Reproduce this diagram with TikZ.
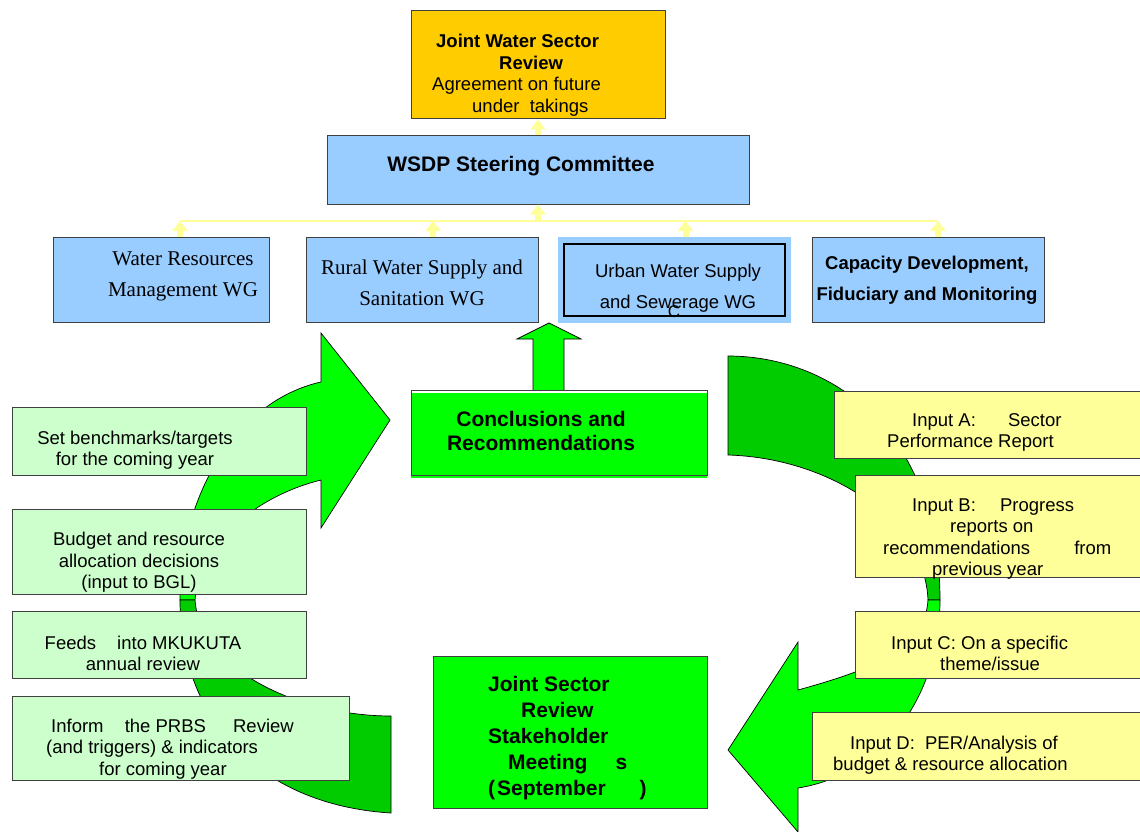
\documentclass[tikz,border=0pt]{standalone}
\usepackage{fontspec}
\setmainfont{Liberation Sans}
\newfontfamily\timesfont{Liberation Serif}
\usetikzlibrary{arrows.meta,positioning}

\definecolor{orangebox}{HTML}{FFCC00}
\definecolor{bluebox}{HTML}{99CCFF}
\definecolor{brightgreen}{HTML}{00FF00}
\definecolor{darkgreen}{HTML}{00CC00}
\definecolor{palegreen}{HTML}{CCFFCC}
\definecolor{paleyellow}{HTML}{FFFF99}
\definecolor{edgegray}{HTML}{404040}

\tikzset{
  box/.style={draw=edgegray, line width=1pt, inner sep=0pt},
  lbl/.style={inner sep=0pt, align=center, font=\fontsize{18.5}{21.5}\selectfont},
  lblb/.style={lbl, font=\bfseries\fontsize{18.5}{21.5}\selectfont},
  feed/.style={draw=paleyellow, line width=6pt, -{Triangle[width=15pt,length=10pt]}},
  bus/.style={draw=paleyellow, line width=2pt},
  curved/.style={draw=black, line width=0.7pt, line join=miter}
}

\begin{document}
\begin{tikzpicture}[x=1pt,y=-1pt]
	\useasboundingbox (0,0) rectangle (1140,832);
	\fill[white] (0,0) rectangle (1140,832);
	\clip (0,0) rectangle (1140,832);

	% curved arrows behind the boxes
	\draw[curved, fill=brightgreen] (180,600) .. controls (180,490) and (240,400) .. (321,382) -- (321,333) -- (390,420) -- (321,528) -- (321,480) .. controls (260,495) and (200,540) .. (195,600) -- cycle;
	\draw[curved, fill=darkgreen] (180,600) .. controls (180,720) and (260,805) .. (391,813) -- (391,716) .. controls (300,716) and (200,670) .. (195,600) -- cycle;

	\draw[curved, fill=darkgreen] (728,356) .. controls (830,356) and (940,430) .. (940,600) -- (928,600) .. controls (925,520) and (830,458) .. (728,455) -- cycle;
	\draw[curved, fill=brightgreen] (940,600) .. controls (940,700) and (880,775) .. (798,788) -- (798,832) -- (728,750) -- (798,642) -- (798,690) .. controls (870,670) and (925,650) .. (928,600) -- cycle;

	% top of the hierarchy
	\node[box, fill=orangebox, minimum width=254pt, minimum height=108pt] (jwsr) at (538,65) {};
	\node[lbl, align=left, anchor=west] (jwsr-t) at (432,75) {\hspace*{4pt}\textbf{Joint Water Sector}\\\hspace*{67pt}\textbf{Review}\\Agreement on future\\\hspace*{40pt}under\ \ takings};

	\node[box, fill=bluebox, minimum width=422pt, minimum height=68pt] (wsdp) at (538,170) {};
	\node[lblb, font=\bfseries\fontsize{21}{24}\selectfont] (wsdp-t) at (521,166) {WSDP Steering Committee};

	% working groups
	\node[box, fill=bluebox, minimum width=216pt, minimum height=85pt] (wrm) at (161,279.5) {};
	\node[lbl, font=\timesfont\fontsize{21}{31}\selectfont] (wrm-t) at (183,276) {Water Resources\\Management WG};

	\node[box, fill=bluebox, minimum width=232pt, minimum height=85pt] (rws) at (422,279.5) {};
	\node[lbl, font=\timesfont\fontsize{21}{31}\selectfont] (rws-t) at (422,283) {Rural Water Supply and\\Sanitation WG};

	\node[fill=bluebox, inner sep=0pt, minimum width=233pt, minimum height=86pt] (uws) at (674.5,280) {};
	\node[draw=black, line width=2pt, inner sep=0pt, minimum width=221pt, minimum height=72pt] (uws-in) at (674.5,280) {};
	\node[lbl, font=\fontsize{18.5}{31}\selectfont] (uws-t) at (678,288) {Urban Water Supply\\and Sewerage WG};
	\node[lbl, font=\fontsize{17}{20}\selectfont] (uws-c) at (674,312) {C};

	\node[box, fill=bluebox, minimum width=232pt, minimum height=85pt] (cdf) at (928,279.5) {};
	\node[lblb, font=\bfseries\fontsize{18.5}{31}\selectfont] (cdf-t) at (927,280) {Capacity Development,\\Fiduciary and Monitoring};

	% yellow feeds up the hierarchy
	\coordinate (bus) at (538,221);
	\draw[bus] ([xshift=19pt]wrm.north |- bus) -- ([xshift=10pt]cdf.north |- bus);
	\draw[feed] ([xshift=19pt]wrm.north) -- ([xshift=19pt]wrm.north |- bus);
	\draw[feed] ([xshift=11pt]rws.north) -- ([xshift=11pt]rws.north |- bus);
	\draw[feed] ([xshift=11pt]uws.north) -- ([xshift=11pt]uws.north |- bus);
	\draw[feed] ([xshift=10pt]cdf.north) -- ([xshift=10pt]cdf.north |- bus);
	\draw[feed] (bus) -- (wsdp.south);
	\draw[feed] (wsdp.north) -- (jwsr.south);

	% conclusions
	\draw[curved, fill=brightgreen] (533,390) -- (533,339) -- (517,339) -- (549,323) -- (581,339) -- (564,339) -- (564,390);
	\fill[brightgreen] (411,393) rectangle (707,478);
	\node[box, minimum width=296pt, minimum height=85pt] (conc) at (559,432.5) {};
	\node[lblb, font=\bfseries\fontsize{21}{24}\selectfont] (conc-t) at (541,431) {Conclusions and\\Recommendations};

	\node[box, fill=brightgreen, minimum width=274pt, minimum height=152pt] (jsr) at (570,732) {};
	\node[lblb, align=left, anchor=west, font=\bfseries\fontsize{21}{26}\selectfont] (jsr-t) at (488,738) {Joint Sector\\\hspace*{33pt}Review\\Stakeholder\\\hspace*{20pt}Meeting\hspace*{28pt}s\\(\kern2pt September\hspace*{34pt})};

	% outputs on the left
	\node[box, fill=palegreen, minimum width=294pt, minimum height=68pt] (bench) at (159,441) {};
	\node[lbl] (bench-t) at (135,450) {Set benchmarks/targets\\for the coming year};

	\node[box, fill=palegreen, minimum width=294pt, minimum height=85pt] (budget) at (159,551.5) {};
	\node[lbl] (budget-t) at (139,562.5) {Budget and resource\\allocation decisions\\(input to BGL)};

	\node[box, fill=palegreen, minimum width=294pt, minimum height=67pt] (mkukuta) at (159,644.5) {};
	\node[lbl] (mkukuta-t) at (143,653.5) {Feeds\hspace*{16pt} into MKUKUTA\\annual review};

	\node[box, fill=palegreen, minimum width=337pt, minimum height=84pt] (prbs) at (180.5,738) {};
	\node[lbl, align=left, anchor=west] (prbs-t) at (46,749) {\hspace*{5pt}Inform\hspace*{16pt} the PRBS\hspace*{22pt} Review\\(and triggers) \& indicators\\\hspace*{53pt}for coming year};

	% inputs on the right
	\node[box, fill=paleyellow, minimum width=311pt, minimum height=67pt] (inA) at (989.5,424.5) {};
	\node[lbl, align=left, anchor=west] (inA-t) at (887,432.5) {\hspace*{25pt}Input A:\hspace*{27pt} Sector\\Performance Report};

	\node[box, fill=paleyellow, minimum width=290pt, minimum height=102pt] (inB) at (1000,526) {};
	\node[lbl, align=left, anchor=west] (inB-t) at (883,539) {\hspace*{29pt}Input B:\hspace*{19pt} Progress\\\hspace*{67pt}reports on\\recommendations\hspace*{39pt} from\\\hspace*{49pt}previous year};

	\node[box, fill=paleyellow, minimum width=290pt, minimum height=67pt] (inC) at (1000,644.5) {};
	\node[lbl, align=left, anchor=west] (inC-t) at (891,653.5) {Input C: On a specific\\\hspace*{49pt}theme/issue};

	\node[box, fill=paleyellow, minimum width=333pt, minimum height=68pt] (inD) at (978.5,746) {};
	\node[lbl, align=left, anchor=west] (inD-t) at (833,755) {\hspace*{17pt}Input D:\hspace*{5pt} PER/Analysis of\\budget \& resource allocation};

\end{tikzpicture}
\end{document}
